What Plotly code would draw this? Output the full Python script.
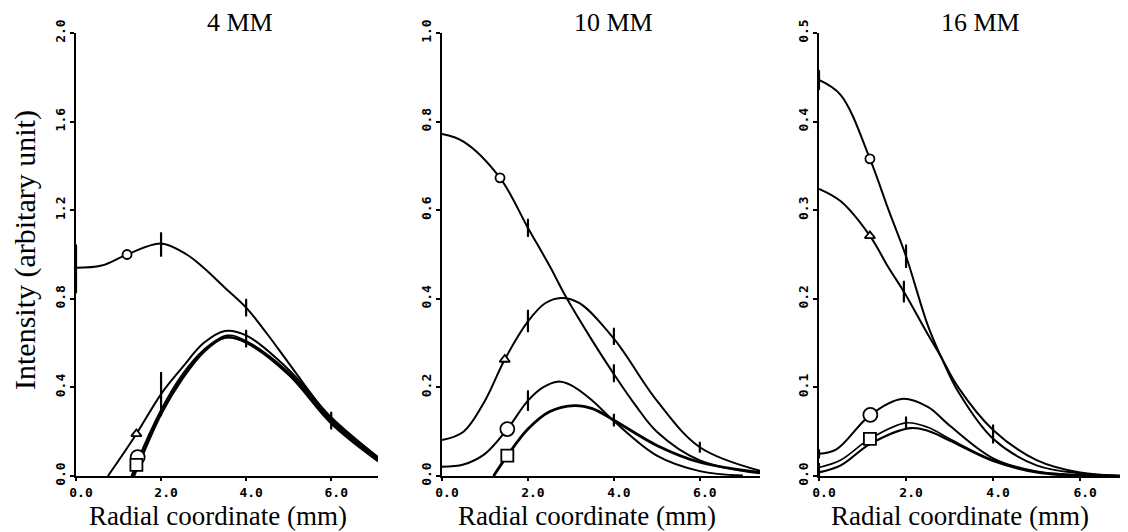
import plotly.graph_objects as go

# ---------------- data ----------------
# Panel 1 : 4 MM
p1_top_x = [0, 0.6, 1.2, 2.0, 2.6, 3.0, 3.5, 4.0, 4.5, 5.0, 6.0, 7.1]
p1_top_y = [0.94, 0.95, 1.0, 1.05, 1.0, 0.94, 0.85, 0.76, 0.64, 0.51, 0.26, 0.085]
p1_tri_x = [0.75, 1.42, 2.0, 2.5, 3.0, 3.5, 4.0, 5.0, 6.0, 7.1]
p1_tri_y = [0.0, 0.19, 0.37, 0.49, 0.60, 0.655, 0.635, 0.48, 0.265, 0.085]
p1_cir_x = [1.32, 1.45, 2.0, 2.5, 3.0, 3.55, 4.0, 5.0, 6.0, 7.1]
p1_cir_y = [0.0, 0.07, 0.30, 0.46, 0.57, 0.635, 0.61, 0.46, 0.24, 0.07]
p1_sq_x = [1.30, 1.42, 2.0, 2.5, 3.0, 3.55, 4.0, 5.0, 6.0, 7.1]
p1_sq_y = [0.0, 0.055, 0.29, 0.45, 0.565, 0.625, 0.60, 0.455, 0.235, 0.065]
p1_th_x = [1.36, 2.0, 2.5, 3.0, 3.5, 4.0, 5.0, 6.0, 7.1]
p1_th_y = [0.0, 0.28, 0.44, 0.56, 0.625, 0.605, 0.465, 0.25, 0.075]
p1_err_x = [0, 2.0, 4.0, 2.0, 4.0, 6.0]
p1_err_y = [0.935, 1.045, 0.76, 0.37, 0.62, 0.25]
p1_err_h = [0.105, 0.05, 0.035, 0.095, 0.035, 0.035]

# Panel 2 : 10 MM
p2_a_x = [0, 0.5, 1.35, 2.0, 2.5, 2.88, 3.5, 4.0, 4.5, 5.0, 6.0, 7.4]
p2_a_y = [0.772, 0.755, 0.673, 0.56, 0.475, 0.405, 0.305, 0.23, 0.16, 0.10, 0.035, 0.006]
p2_b_x = [0, 0.5, 1.0, 1.46, 2.0, 2.4, 2.77, 3.2, 4.0, 5.0, 6.0, 7.4]
p2_b_y = [0.081, 0.10, 0.17, 0.263, 0.349, 0.39, 0.402, 0.39, 0.31, 0.17, 0.065, 0.012]
p2_c_x = [0, 0.5, 1.0, 1.52, 2.0, 2.35, 2.69, 3.0, 3.5, 4.0, 5.0, 6.0, 7.0]
p2_c_y = [0.021, 0.026, 0.05, 0.106, 0.17, 0.20, 0.213, 0.205, 0.17, 0.124, 0.046, 0.011, 0.001]
p2_d_x = [1.2, 1.52, 2.0, 2.5, 3.08, 3.5, 4.0, 5.0, 6.0, 7.4]
p2_d_y = [0.0, 0.046, 0.106, 0.145, 0.159, 0.152, 0.126, 0.069, 0.031, 0.008]
p2_err_x = [2.0, 4.0, 2.0, 4.0, 6.0, 2.0, 4.0]
p2_err_y = [0.56, 0.232, 0.35, 0.315, 0.065, 0.17, 0.126]
p2_err_h = [0.018, 0.018, 0.023, 0.017, 0.01, 0.021, 0.012]

# Panel 3 : 16 MM
p3_a_x = [0, 0.5, 1.17, 1.6, 2.0, 2.5, 2.8, 3.2, 4.0, 5.0, 6.0, 7.1]
p3_a_y = [0.447, 0.43, 0.358, 0.30, 0.248, 0.17, 0.135, 0.095, 0.042, 0.012, 0.003, 0.0]
p3_b_x = [0, 0.5, 1.17, 1.6, 1.95, 2.5, 2.8, 3.2, 4.0, 5.0, 6.0, 7.1]
p3_b_y = [0.324, 0.31, 0.271, 0.235, 0.208, 0.16, 0.135, 0.10, 0.052, 0.018, 0.004, 0.0]
p3_c_x = [0, 0.4, 1.18, 1.9, 2.5, 3.0, 4.0, 5.0, 6.0, 7.1]
p3_c_y = [0.025, 0.03, 0.069, 0.087, 0.078, 0.057, 0.02, 0.005, 0.001, 0.0]
p3_d_x = [0, 0.5, 1.17, 2.0, 2.5, 3.0, 4.0, 5.0, 6.0, 7.1]
p3_d_y = [0.0095, 0.018, 0.042, 0.06, 0.055, 0.042, 0.018, 0.005, 0.001, 0.0]
p3_e_x = [0, 0.5, 1.17, 2.1, 2.5, 3.0, 4.0, 5.0, 6.0, 7.1]
p3_e_y = [0.004, 0.012, 0.036, 0.054, 0.051, 0.04, 0.017, 0.004, 0.0, 0.0]
p3_err_x = [0, 2.0, 1.95, 4.0, 4.0, 2.0, 0, 0, 0]
p3_err_y = [0.447, 0.248, 0.208, 0.052, 0.042, 0.06, 0.025, 0.0095, 0.004]
p3_err_h = [0.01, 0.012, 0.011, 0.005, 0.004, 0.006, 0.004, 0.004, 0.003]

# markers
p1_mk_x = [1.2, 1.42, 1.45, 1.42]
p1_mk_y = [1.0, 0.19, 0.085, 0.05]
p2_mk_x = [1.35, 1.46, 1.52, 1.52]
p2_mk_y = [0.673, 0.263, 0.106, 0.046]
p3_mk_x = [1.17, 1.17, 1.18, 1.17]
p3_mk_y = [0.358, 0.271, 0.069, 0.042]
mk_symbols = ["circle", "triangle-up", "circle", "square"]
mk_sizes = [9, 9, 14, 12]

titles = ["4 MM", "10 MM", "16 MM"]
x_ticks = [0, 2, 4, 6]
x_ticktext = ["0.0", "2.0", "4.0", "6.0"]
y_ticks = [[0, 0.4, 0.8, 1.2, 1.6, 2.0], [0, 0.2, 0.4, 0.6, 0.8, 1.0], [0, 0.1, 0.2, 0.3, 0.4, 0.5]]
y_ticktext = [["0.0", "0.4", "0.8", "1.2", "1.6", "2.0"],
              ["0.0", "0.2", "0.4", "0.6", "0.8", "1.0"],
              ["0.0", "0.1", "0.2", "0.3", "0.4", "0.5"]]
x_ranges = [[0, 7.1], [0, 7.4], [0, 7.1]]
y_ranges = [[0, 2.0], [0, 1.0], [0, 0.5]]

# ---------------- figure ----------------
# the page body has an 8px margin: the figure covers screen pixels 8..1128 x 8..532
OFF = 8
W, H = 1128 - OFF, 532 - OFF


def fx(px):
    return (px - OFF) / W


def fy(py):
    return 1 - (py - OFF) / H


fig = go.Figure()

panels = [
    dict(curves=[(p1_top_x, p1_top_y, 2.0), (p1_tri_x, p1_tri_y, 2.0), (p1_cir_x, p1_cir_y, 1.6),
                 (p1_sq_x, p1_sq_y, 1.6), (p1_th_x, p1_th_y, 2.6)],
         err=(p1_err_x, p1_err_y, p1_err_h), mk=(p1_mk_x, p1_mk_y)),
    dict(curves=[(p2_a_x, p2_a_y, 2.0), (p2_b_x, p2_b_y, 2.0), (p2_c_x, p2_c_y, 2.0),
                 (p2_d_x, p2_d_y, 2.8)],
         err=(p2_err_x, p2_err_y, p2_err_h), mk=(p2_mk_x, p2_mk_y)),
    dict(curves=[(p3_a_x, p3_a_y, 2.0), (p3_b_x, p3_b_y, 2.0), (p3_c_x, p3_c_y, 2.0),
                 (p3_d_x, p3_d_y, 1.6), (p3_e_x, p3_e_y, 2.2)],
         err=(p3_err_x, p3_err_y, p3_err_h), mk=(p3_mk_x, p3_mk_y)),
]

x_dom = [[fx(76), fx(378)], [fx(442), fx(760)], [fx(819), 1.0]]
y_dom = [fy(476), fy(33)]

for i, p in enumerate(panels):
    xa = "x" if i == 0 else f"x{i+1}"
    ya = "y" if i == 0 else f"y{i+1}"
    for cx, cy, lw in p["curves"]:
        fig.add_trace(go.Scatter(x=cx, y=cy, mode="lines", xaxis=xa, yaxis=ya,
                                 line=dict(color="black", width=lw, shape="spline", smoothing=1.0),
                                 showlegend=False, hoverinfo="skip"))
    ex, ey, eh = p["err"]
    fig.add_trace(go.Scatter(x=ex, y=ey, mode="markers", xaxis=xa, yaxis=ya,
                             marker=dict(size=1, color="black"),
                             error_y=dict(type="data", array=eh, visible=True, color="black",
                                          thickness=2.2, width=1),
                             showlegend=False, hoverinfo="skip"))
    mx, my = p["mk"]
    fig.add_trace(go.Scatter(x=mx, y=my, mode="markers", xaxis=xa, yaxis=ya, opacity=1,
                             marker=dict(symbol=mk_symbols, size=mk_sizes, color="#ffffff", opacity=1,
                                         line=dict(color="black", width=1.8)),
                             showlegend=False, hoverinfo="skip", cliponaxis=False))

    common_x = dict(domain=x_dom[i], range=x_ranges[i], tickvals=x_ticks, ticktext=x_ticktext,
                    showline=True, linecolor="black", linewidth=2, showgrid=False, zeroline=False,
                    ticks="outside", ticklen=3, tickwidth=1.5, tickcolor="black", automargin=False,
                    tickfont=dict(family="DejaVu Sans Mono", size=13, color="black", weight="bold"),
                    anchor=ya, ticklabelshift=5, ticklabelstandoff=0)
    common_y = dict(domain=y_dom, range=y_ranges[i], tickvals=y_ticks[i], ticktext=y_ticktext[i],
                    showline=True, linecolor="black", linewidth=2, showgrid=False, zeroline=False,
                    ticks="outside", ticklen=4, tickwidth=1.5, tickcolor="black", tickangle=-90,
                    automargin=False,
                    tickfont=dict(family="DejaVu Sans Mono", size=13, color="black", weight="bold"),
                    anchor=xa)
    fig.layout[("xaxis" if i == 0 else f"xaxis{i+1}")] = common_x
    fig.layout[("yaxis" if i == 0 else f"yaxis{i+1}")] = common_y

annots = []
title_cx = [240, 613, 980]
xt_cx = [218, 587, 960]
for i in range(3):
    annots.append(dict(text=titles[i], x=fx(title_cx[i]), y=fy(23), xref="paper", yref="paper",
                       showarrow=False, xanchor="center", yanchor="middle",
                       font=dict(family="Liberation Serif", size=26, color="black")))
    annots.append(dict(text="Radial coordinate (mm)", x=fx(xt_cx[i]), y=fy(532), xref="paper",
                       yref="paper", showarrow=False, xanchor="center", yanchor="bottom",
                       borderpad=0,
                       font=dict(family="Liberation Serif", size=27, color="black")))
annots.append(dict(text="Intensity (arbitary unit)", x=fx(25), y=fy(250), xref="paper", yref="paper",
                   showarrow=False, xanchor="center", yanchor="middle", textangle=-90,
                   font=dict(family="Liberation Serif", size=30, color="black")))

fig.update_layout(width=W, height=H, margin=dict(l=0, r=0, t=0, b=0, autoexpand=False),
                  paper_bgcolor="white", plot_bgcolor="white", annotations=annots)

fig.write_html("out.html")
